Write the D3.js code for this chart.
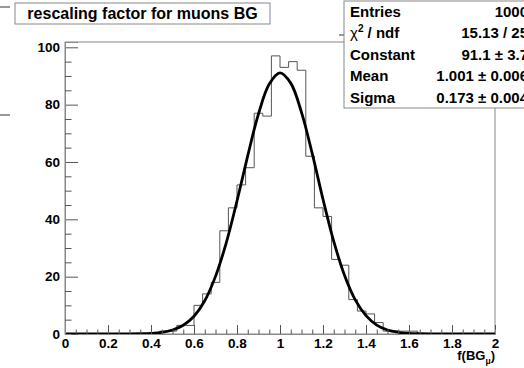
<html>
<!DOCTYPE html>
<meta charset="utf-8">
<head>
<script src="https://d3js.org/d3.v7.min.js"></script>
<style>
body { margin: 0; background: #fff; }
text { font-family: "Liberation Sans", Arial, sans-serif; font-weight: bold; fill: #000; }
</style>
</head>
<body>
<div id="chart"></div>
<script type="text/javascript">
  // histogram: 50 bins of width 0.04 from 0 to 2
  var binLow = 0, binWidth = 0.04;
  var counts = [0,0,0,0,0,0,0,0,0,0,
                0,1,1,3,3,10,14,18,36,44,
                52,58,77,76,97,93,95,92,62,44,
                41,26,24,12,8,7,4,1,1,1,
                1,0,0,0,0,0,0,0,0,0];

  // gaus fit curve
  var fitX = [0, 0.3, 0.35, 0.4, 0.45, 0.5, 0.55, 0.6, 0.65, 0.7, 0.75, 0.8, 0.85, 0.9, 0.95, 1.0,
              1.05, 1.1, 1.15, 1.2, 1.25, 1.3, 1.35, 1.4, 1.45, 1.5, 1.55, 1.6, 1.65, 1.7, 2];
  var fitY = [0, 0.02, 0.08, 0.22, 0.57, 1.4, 3.05, 6.2, 11.6, 20.1, 31.8, 46.4, 62.2, 76.8, 87.2, 91.1,
              87.5, 77.3, 62.9, 47.0, 32.3, 20.5, 11.9, 6.4, 3.1, 1.4, 0.6, 0.2, 0.08, 0.02, 0];

  var statLabels = ["Entries", "χ", "Constant", "Mean", "Sigma"];
  var statValues = ["1000", "15.13 / 25", "91.1 ± 3.7", "1.001 ± 0.006", "0.173 ± 0.004"];

  var xTicks = [0, 0.2, 0.4, 0.6, 0.8, 1, 1.2, 1.4, 1.6, 1.8, 2];
  var yTicks = [0, 20, 40, 60, 80, 100];

  var width = 524, height = 368;
  var svg = d3.select("#chart").append("svg").attr("width", width).attr("height", height);

  var x = d3.scaleLinear().domain([0, 2]).range([65, 495]);
  var y = d3.scaleLinear().domain([0, 101.85]).range([334, 42]);

  // frame
  svg.append("rect").attr("x", 65).attr("y", 42).attr("width", 430).attr("height", 292)
     .attr("fill", "none").attr("stroke", "#888").attr("stroke-width", 1);

  var clip = svg.append("clipPath").attr("id", "fr").append("rect")
     .attr("x", 65).attr("y", 41).attr("width", 431).attr("height", 294);

  // histogram outline
  var p = d3.path();
  p.moveTo(x(binLow), y(0));
  counts.forEach(function(c, i) {
    p.lineTo(x(binLow + i * binWidth), y(c));
    p.lineTo(x(binLow + (i + 1) * binWidth), y(c));
  });
  p.lineTo(x(2), y(0));
  svg.append("path").attr("d", p.toString()).attr("fill", "none")
     .attr("stroke", "#555").attr("stroke-width", 1).attr("clip-path", "url(#fr)");

  // fit
  var line = d3.line().x(function(d, i) { return x(fitX[i]); })
                      .y(function(d) { return y(d); })
                      .curve(d3.curveCatmullRom.alpha(0.5));
  svg.append("path").attr("d", line(fitY)).attr("fill", "none")
     .attr("stroke", "#000").attr("stroke-width", 2.8).attr("clip-path", "url(#fr)");

  // axes
  var xMinor = d3.range(0, 2.001, 0.05).filter(function(v) { return Math.abs(v * 5 - Math.round(v * 5)) > 1e-6; });
  var yMinor = d3.range(0, 101, 5).filter(function(v) { return v % 20 != 0; });

  var xAxis = d3.axisBottom(x).tickValues(xTicks).tickSize(-9).tickPadding(4)
                .tickFormat(function(d) { return d3.format("~g")(d); });
  var gx = svg.append("g").attr("transform", "translate(0,334)").call(xAxis);
  svg.append("g").attr("transform", "translate(0,334)")
     .call(d3.axisBottom(x).tickValues(xMinor).tickSize(-4.5).tickFormat(""));

  var yAxis = d3.axisLeft(y).tickValues(yTicks).tickSize(-13).tickPadding(5);
  var gy = svg.append("g").attr("transform", "translate(65,0)").call(yAxis);
  svg.append("g").attr("transform", "translate(65,0)")
     .call(d3.axisLeft(y).tickValues(yMinor).tickSize(-6.5).tickFormat(""));

  svg.selectAll(".domain").attr("stroke", "#888");
  svg.selectAll(".tick line").attr("stroke", "#555");
  svg.selectAll(".tick text").attr("font-size", 13.5).attr("font-family", "Liberation Sans, Arial, sans-serif")
     .attr("font-weight", "bold").attr("fill", "#000");

  // axis title
  var at = svg.append("text").attr("x", 495).attr("y", 360).attr("text-anchor", "end").attr("font-size", 13);
  at.append("tspan").text("f(BG");
  at.append("tspan").attr("dy", 4).attr("font-size", 8.5).text("μ");
  at.append("tspan").attr("dy", -4).text(")");

  // title box
  svg.append("line").attr("x1", 0).attr("x2", 10).attr("y1", 7).attr("y2", 7).attr("stroke", "#333");
  svg.append("rect").attr("x", 15).attr("y", 3).attr("width", 255).attr("height", 21)
     .attr("fill", "#fff").attr("stroke", "#888");
  svg.append("text").attr("x", 142.5).attr("y", 19).attr("text-anchor", "middle").attr("font-size", 16)
     .text("rescaling factor for muons BG");

  // stray line at left
  svg.append("line").attr("x1", 0).attr("x2", 10).attr("y1", 115).attr("y2", 115).attr("stroke", "#333");

  // stats box
  svg.append("line").attr("x1", 339).attr("x2", 344).attr("y1", 35).attr("y2", 35).attr("stroke", "#333");
  svg.append("rect").attr("x", 344).attr("y", 1).attr("width", 200).attr("height", 107)
     .attr("fill", "#fff").attr("stroke", "#888");
  statLabels.forEach(function(s, i) {
    var by = 17 + i * 21.4;
    var t = svg.append("text").attr("x", 350).attr("y", by).attr("font-size", 15);
    if (i == 1) {
      t.append("tspan").attr("font-weight", "normal").text("χ");
      t.append("tspan").attr("dy", -6).attr("font-size", 10).text("2");
      t.append("tspan").attr("dy", 6).text(" / ndf");
    } else {
      t.text(s);
    }
    svg.append("text").attr("x", 528).attr("y", by).attr("text-anchor", "end").attr("font-size", 15)
       .text(statValues[i]);
  });
</script>
</body>
</html>
